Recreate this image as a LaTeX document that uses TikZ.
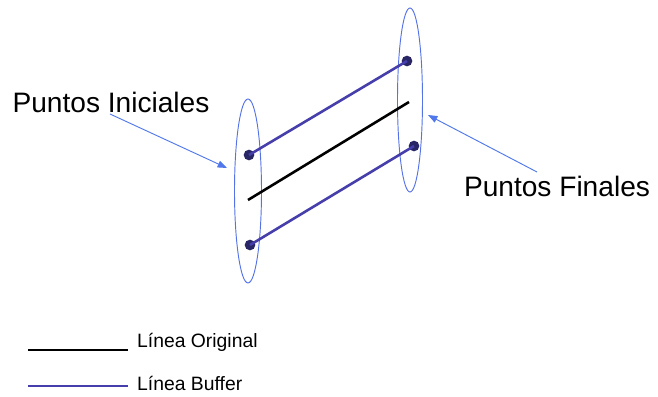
\documentclass[tikz,border=0pt]{standalone}
\usepackage{fontspec}
\setmainfont{Liberation Sans}
\usetikzlibrary{shapes.geometric,arrows.meta,positioning}
\definecolor{ringblue}{RGB}{85,115,230}
\definecolor{buffer}{RGB}{70,62,170}
\definecolor{dotnavy}{RGB}{40,38,100}
\definecolor{pointer}{RGB}{80,120,235}

\begin{document}
\begin{tikzpicture}[
    x=0.03cm, y=-0.03cm,
    ring/.style={ellipse, draw=ringblue, thick, inner sep=0pt},
    pt/.style={circle, fill=dotnavy, inner sep=0pt, minimum size=0.32cm},
    original/.style={draw=black, line width=2.2pt},
    bufline/.style={draw=buffer, line width=2.2pt},
    pointerarrow/.style={-{Triangle[length=8pt,width=6pt]}, draw=pointer, thick},
    biglabel/.style={font=\fontsize{24}{27}\selectfont, inner sep=0pt},
    keylabel/.style={font=\fontsize{16.5}{19}\selectfont, inner sep=0pt},
]
\useasboundingbox (0,0) rectangle (658,397);

% === RINGS ===
\node[ring, minimum width=0.81cm, minimum height=5.52cm] (ringA) at (248,191) {};
\node[ring, minimum width=0.75cm, minimum height=5.52cm] (ringB) at (410,100) {};

% === POINTS ===
\node[pt] (a1) at (249,155) {};
\node[pt] (a2) at (250,245) {};
\node[pt] (b1) at (407,61) {};
\node[pt] (b2) at (414,146) {};
\coordinate (o1) at (248,200);
\coordinate (o2) at (409,102);

% === LINES ===
\draw[bufline] (a1.center) -- (b1.center);
\draw[bufline] (a2.center) -- (b2.center);
\draw[original] (o1) -- (o2);

% === LABELS ===
\node[biglabel] (ini) at (111,102) {Puntos Iniciales};
\node[biglabel] (fin) at (557,186) {Puntos Finales};
\coordinate (iniTail) at (110,114);
\coordinate (iniTip) at (227,168);
\coordinate (finTail) at (537,172);
\coordinate (finTip) at (428,115);
\draw[pointerarrow] (iniTail) -- (iniTip);
\draw[pointerarrow] (finTail) -- (finTip);

% === LEGEND ===
\coordinate (k1) at (28,350);
\coordinate (k2) at (28,386);
\draw[original] (k1) -- ++(100,0) coordinate (k1e);
\draw[bufline] (k2) -- ++(100,0) coordinate (k2e);
\node[keylabel, right=0.27cm of k1e, yshift=0.24cm] (keyA) {Línea Original};
\node[keylabel, right=0.27cm of k2e, yshift=0.09cm] (keyB) {Línea Buffer};
\end{tikzpicture}
\end{document}
